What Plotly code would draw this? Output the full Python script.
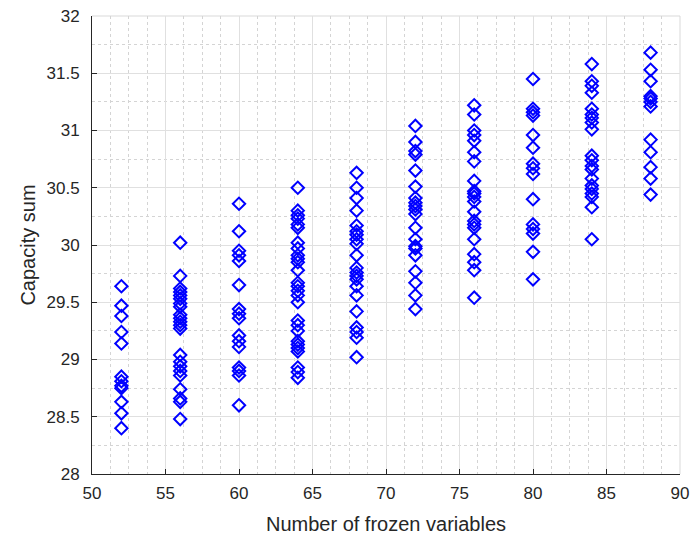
import plotly.graph_objects as go

x_groups = [52, 56, 60, 64, 68, 72, 76, 80, 84, 88]
y_groups = [
    [29.64, 29.47, 29.38, 29.24, 29.14, 28.85, 28.81, 28.77, 28.75, 28.63, 28.53, 28.40],
    [30.02, 29.73, 29.62, 29.59, 29.56, 29.53, 29.49, 29.46, 29.39, 29.36, 29.33, 29.30, 29.27,
     29.04, 28.98, 28.94, 28.90, 28.86, 28.74, 28.66, 28.63, 28.48],
    [30.36, 30.12, 29.95, 29.91, 29.86, 29.65, 29.44, 29.40, 29.36, 29.21, 29.16, 29.11,
     28.93, 28.90, 28.86, 28.60],
    [30.50, 30.30, 30.26, 30.23, 30.18, 30.15, 30.02, 29.97, 29.91, 29.88, 29.85, 29.78, 29.67,
     29.64, 29.60, 29.56, 29.50, 29.34, 29.30, 29.25, 29.16, 29.13, 29.10, 29.07, 28.93, 28.89, 28.84],
    [30.63, 30.50, 30.41, 30.30, 30.17, 30.12, 30.09, 30.05, 30.01, 29.91, 29.80, 29.76, 29.73,
     29.70, 29.64, 29.56, 29.42, 29.28, 29.24, 29.19, 29.02],
    [31.04, 30.90, 30.82, 30.79, 30.65, 30.51, 30.41, 30.37, 30.34, 30.31, 30.27, 30.15, 30.05,
     29.99, 29.97, 29.91, 29.77, 29.67, 29.56, 29.44],
    [31.22, 31.14, 31.00, 30.96, 30.91, 30.81, 30.73, 30.56, 30.47, 30.45, 30.42, 30.38, 30.29,
     30.21, 30.18, 30.15, 30.05, 29.92, 29.85, 29.78, 29.54],
    [31.45, 31.19, 31.16, 31.13, 30.96, 30.85, 30.71, 30.67, 30.62, 30.40, 30.18, 30.14, 30.10,
     29.94, 29.70],
    [31.58, 31.43, 31.39, 31.33, 31.19, 31.14, 31.11, 31.07, 31.01, 30.78, 30.74, 30.69, 30.66,
     30.58, 30.52, 30.49, 30.45, 30.42, 30.33, 30.05],
    [31.68, 31.53, 31.43, 31.30, 31.28, 31.25, 31.21, 30.92, 30.81, 30.68, 30.58, 30.44],
]
x_ticks = [50, 55, 60, 65, 70, 75, 80, 85, 90]
y_ticks = [28, 28.5, 29, 29.5, 30, 30.5, 31, 31.5, 32]
y_tick_text = ["28", "28.5", "29", "29.5", "30", "30.5", "31", "31.5", "32"]

xs, ys = [], []
for xv, grp in zip(x_groups, y_groups):
    for v in grp:
        xs.append(xv)
        ys.append(v)

fig = go.Figure()
fig.add_trace(go.Scatter(
    x=xs, y=ys, mode="markers",
    marker=dict(symbol="diamond-open", size=9.5, color="#0000FF",
                line=dict(width=2, color="#0000FF")),
    showlegend=False,
    cliponaxis=False,
))

axis_font = dict(family="Liberation Sans, Arial, sans-serif", size=17, color="#262626")
title_font = dict(family="Liberation Sans, Arial, sans-serif", size=20, color="#262626")

fig.update_layout(
    width=694, height=541,
    margin=dict(l=92, r=14, t=16, b=67),
    paper_bgcolor="white", plot_bgcolor="white",
    font=axis_font,
    xaxis=dict(
        range=[50, 90], tickvals=x_ticks, ticks="inside", ticklen=5,
        tickcolor="#262626", showline=True, linecolor="#262626", linewidth=1,
        showgrid=True, gridcolor="#e0e0e0", gridwidth=1, zeroline=False,
        tickfont=axis_font, automargin=False, ticklabelstandoff=4,
        title=dict(text="Number of frozen variables", font=title_font, standoff=14),
        minor=dict(dtick=1.25, tick0=50, showgrid=True, gridcolor="#d4d4d4",
                   griddash="dot", gridwidth=1, ticks=""),
    ),
    yaxis=dict(
        range=[28, 32], tickvals=y_ticks, ticktext=y_tick_text, ticks="inside", ticklen=5,
        tickcolor="#262626", showline=True, linecolor="#262626", linewidth=1,
        showgrid=True, gridcolor="#e0e0e0", gridwidth=1, zeroline=False,
        tickfont=axis_font, automargin=False, ticklabelstandoff=8,
        title=dict(text="Capacity sum", font=title_font, standoff=5),
        minor=dict(dtick=0.25, tick0=28, showgrid=True, gridcolor="#d4d4d4",
                   griddash="dot", gridwidth=1, ticks=""),
    ),
    shapes=[
        dict(type="line", xref="paper", yref="paper", x0=0, x1=1, y0=1, y1=1,
             line=dict(color="#d9d9d9", width=1), layer="below"),
        dict(type="line", xref="paper", yref="paper", x0=1, x1=1, y0=0, y1=1,
             line=dict(color="#d9d9d9", width=1), layer="below"),
    ],
)

fig.write_html("out.html")
